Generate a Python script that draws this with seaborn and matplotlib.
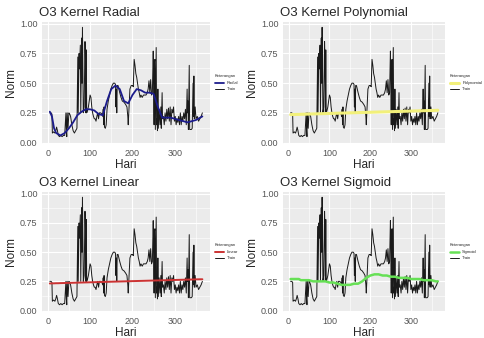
import numpy as np
import pandas as pd
import matplotlib
matplotlib.use("Agg")
import matplotlib.pyplot as plt
from matplotlib.ticker import MultipleLocator
import seaborn as sns

# ============= DATA =============
hari_train = [5, 8, 10, 11, 14, 17, 19, 21, 23, 25, 28, 31, 34, 37, 40, 42, 43, 44, 45, 46, 48, 50, 52, 54,
              57, 60, 63, 66, 69, 71, 72, 74, 75, 77, 78, 80, 81, 82, 84, 86, 88, 89,
              90, 91, 92, 94, 96, 98, 100, 102, 104, 106, 108, 110, 112, 114, 116, 118, 120, 122, 125,
              128, 130, 131, 132, 133, 134, 136, 138, 140, 143, 146, 149, 152, 155, 158, 160, 161, 162,
              163, 164, 166, 168, 170, 173, 176, 180, 184, 187, 189, 190, 192, 194, 197, 200, 202, 204,
              206, 208, 210, 212, 214, 216, 218, 220, 223, 226, 229, 232, 235, 237, 239, 241, 243, 245,
              247, 249, 250, 251, 252, 253, 254, 256, 257, 258, 259, 260, 261, 263, 265, 267, 268, 270,
              271, 273, 275, 277, 279, 281, 283, 285, 287, 289, 291, 293, 295, 297, 299, 301, 303, 305,
              307, 309, 311, 313, 315, 317, 319, 321, 323, 325, 327, 329, 330, 331, 332, 334, 335, 337,
              339, 341, 343, 344, 345, 346, 348, 350, 353, 356, 359, 362, 365]
norm_train = [0.25, 0.25, 0.24, 0.08, 0.09, 0.08, 0.10, 0.13, 0.10, 0.06, 0.05, 0.06, 0.05, 0.06, 0.06,
              0.18, 0.25, 0.10, 0.05, 0.25, 0.12, 0.25, 0.24, 0.22, 0.15, 0.10, 0.08, 0.10, 0.12, 0.72,
              0.25, 0.75, 0.62, 0.82, 0.25, 0.88, 0.50, 0.97, 0.25, 0.30,
              0.85, 0.70, 0.25, 0.78, 0.25, 0.27, 0.30, 0.35, 0.40, 0.38, 0.30, 0.25, 0.22, 0.20, 0.20,
              0.18, 0.22, 0.25, 0.20, 0.25, 0.25, 0.24, 0.22, 0.28, 0.15, 0.30, 0.13, 0.12, 0.15, 0.28,
              0.35, 0.40, 0.45, 0.48, 0.50, 0.50, 0.49, 0.30, 0.45, 0.25, 0.48, 0.48, 0.45, 0.42, 0.38,
              0.35, 0.34, 0.32, 0.30, 0.22, 0.15, 0.30, 0.45, 0.48, 0.48, 0.47, 0.70, 0.65, 0.58, 0.55,
              0.50, 0.45, 0.42, 0.38, 0.40, 0.38, 0.40, 0.40, 0.40, 0.42, 0.45, 0.52, 0.42, 0.53, 0.40,
              0.42, 0.77, 0.55, 0.15, 0.68, 0.70, 0.11, 0.80, 0.15, 0.20, 0.10, 0.45, 0.12, 0.28, 0.15,
              0.30, 0.12, 0.42, 0.20, 0.22, 0.15, 0.25, 0.18, 0.28, 0.20, 0.29, 0.18, 0.30, 0.15, 0.28,
              0.25, 0.30, 0.18, 0.22, 0.15, 0.20, 0.17, 0.22, 0.15, 0.25, 0.15, 0.22, 0.18, 0.25, 0.20,
              0.28, 0.15, 0.45, 0.25, 0.35, 0.11, 0.65, 0.11, 0.11, 0.11, 0.12, 0.50, 0.22, 0.56, 0.20,
              0.30, 0.20, 0.22, 0.18, 0.20, 0.22, 0.25]

hari_pred = [5, 10, 15, 20, 25, 30, 40, 50, 60, 70, 80, 90, 100, 110, 120, 130, 140, 150, 160, 170,
             180, 190, 200, 210, 220, 230, 240, 250, 260, 270, 280, 290, 300, 310, 320, 330, 340, 350,
             360, 365]
pred_radial = [0.26, 0.22, 0.12, 0.08, 0.07, 0.06, 0.08, 0.12, 0.17, 0.23, 0.26, 0.28, 0.28, 0.27, 0.24,
               0.23, 0.35, 0.45, 0.48, 0.45, 0.35, 0.33, 0.40, 0.45, 0.44, 0.42, 0.42, 0.41, 0.30, 0.21,
               0.21, 0.21, 0.20, 0.19, 0.18, 0.17, 0.18, 0.19, 0.21, 0.22]
pred_poly = [0.235, 0.236, 0.236, 0.237, 0.237, 0.238, 0.239, 0.240, 0.241, 0.242, 0.243, 0.244, 0.245,
             0.246, 0.247, 0.248, 0.249, 0.250, 0.251, 0.252, 0.253, 0.254, 0.255, 0.256, 0.257, 0.258,
             0.259, 0.260, 0.261, 0.262, 0.263, 0.264, 0.265, 0.266, 0.267, 0.268, 0.269, 0.270, 0.271,
             0.272]
pred_linear = [0.232, 0.233, 0.233, 0.234, 0.234, 0.235, 0.236, 0.237, 0.238, 0.239, 0.240, 0.241, 0.242,
               0.243, 0.244, 0.245, 0.246, 0.247, 0.248, 0.249, 0.250, 0.251, 0.252, 0.253, 0.254, 0.255,
               0.256, 0.257, 0.258, 0.259, 0.260, 0.261, 0.262, 0.263, 0.264, 0.265, 0.266, 0.267, 0.268,
               0.268]
pred_sigmoid = [0.27, 0.27, 0.27, 0.27, 0.27, 0.26, 0.26, 0.26, 0.25, 0.25, 0.25, 0.25, 0.24, 0.24, 0.23,
                0.22, 0.22, 0.22, 0.23, 0.23, 0.25, 0.28, 0.30, 0.31, 0.31, 0.30, 0.30, 0.29, 0.29, 0.28,
                0.28, 0.28, 0.27, 0.27, 0.27, 0.26, 0.26, 0.26, 0.25, 0.25]

panels = [
    ("O3 Kernel Radial", "Radial", pred_radial, "#1c1c8c", 1.3),
    ("O3 Kernel Polynomial", "Polynomial", pred_poly, "#f2f07a", 2.2),
    ("O3 Kernel Linear", "Linear", pred_linear, "#cc3333", 1.4),
    ("O3 Kernel Sigmoid", "Sigmoid", pred_sigmoid, "#66e055", 1.8),
]

# panel positions [left, bottom, width, height] in figure fraction
positions = [
    [0.087, 0.574, 0.346, 0.361],
    [0.584, 0.574, 0.334, 0.361],
    [0.087, 0.077, 0.346, 0.355],
    [0.584, 0.077, 0.334, 0.355],
]

# ============= PLOT =============
sns.set_theme(style="darkgrid", rc={
    "axes.facecolor": "#ebebeb",
    "grid.color": "white",
    "axes.edgecolor": "#ebebeb",
})
plt.rcParams['font.family'] = ['Liberation Sans', 'DejaVu Sans']

fig = plt.figure(figsize=(4.85, 3.38), dpi=100)
fig.patch.set_facecolor("white")

df_train = pd.DataFrame({"Hari": hari_train, "Norm": norm_train})

for (title, label, pred, color, lw), pos in zip(panels, positions):
    ax = fig.add_axes(pos)
    df_pred = pd.DataFrame({"Hari": hari_pred, "Norm": pred})
    sns.lineplot(data=df_train, x="Hari", y="Norm", ax=ax, color="#1a1a1a", linewidth=0.7,
                 label="Train", zorder=3)
    sns.lineplot(data=df_pred, x="Hari", y="Norm", ax=ax, color=color, linewidth=lw,
                 label=label, zorder=4)

    ax.set_xlim(-13, 383)
    ax.set_ylim(-0.012, 1.015)
    ax.set_xticks([0, 100, 200, 300])
    ax.set_yticks([0.0, 0.25, 0.5, 0.75, 1.0])
    ax.set_yticklabels(["0.00", "0.25", "0.50", "0.75", "1.00"])
    ax.xaxis.set_minor_locator(MultipleLocator(50))
    ax.yaxis.set_minor_locator(MultipleLocator(0.125))
    ax.grid(which="major", color="white", linewidth=0.8)
    ax.grid(which="minor", color="white", linewidth=0.4)
    ax.tick_params(axis="both", which="major", labelsize=6.5, colors="#4d4d4d", length=2,
                   width=0.5, pad=1.5, labelcolor="#555555")
    ax.tick_params(axis="both", which="minor", length=0)
    for s in ax.spines.values():
        s.set_visible(False)
    ax.set_xlabel("Hari", fontsize=8.5, labelpad=0.5)
    ax.set_ylabel("Norm", fontsize=8.5, labelpad=2)
    ax.set_title(title, fontsize=9.5, loc="left", pad=4, x=-0.02)

    handles, labels = ax.get_legend_handles_labels()
    order = [1, 0]
    leg = ax.legend([handles[i] for i in order], [labels[i] for i in order],
                    title="Keterangan", loc="center left", bbox_to_anchor=(1.01, 0.5),
                    fontsize=3, title_fontsize=3, frameon=False, handlelength=2.2,
                    borderaxespad=0.3, labelspacing=0.6)
    leg._legend_box.align = "left"

fig.savefig("out.png", dpi=100)
